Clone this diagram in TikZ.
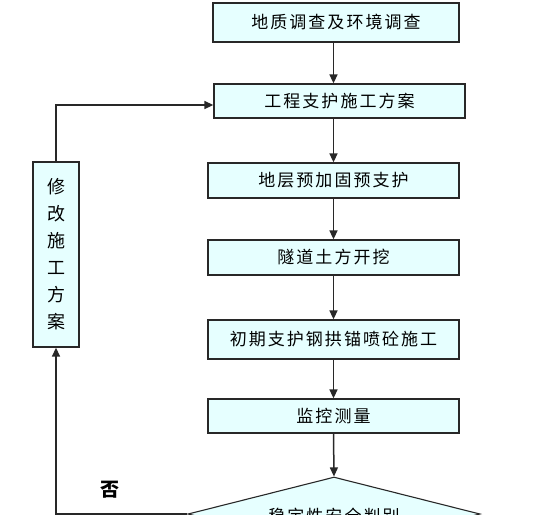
\documentclass[tikz,border=0pt]{standalone}
\usepackage{fontspec}
\setmainfont{Noto Sans CJK SC}[LetterSpace=12]
\usetikzlibrary{arrows.meta,shapes.geometric}
\definecolor{boxcyan}{RGB}{230, 255, 255}
\definecolor{linegray}{RGB}{40, 40, 40}

\begin{document}
\begin{tikzpicture}[x=1pt, y=-1pt, font=\fontsize{17}{19}\selectfont,
    stepbox/.style={draw=linegray, line width=1.3pt, fill=boxcyan,
      minimum width=251pt, minimum height=35pt, inner sep=0pt},
    checkbox/.style={diamond, draw=linegray, line width=1.1pt, fill=boxcyan,
      minimum width=292pt, minimum height=74pt, aspect=3.9, inner sep=0pt},
    arr/.style={draw=linegray, line width=1.5pt, -{Triangle[width=8pt,length=9pt]}}]
        \useasboundingbox (0,0) rectangle (550,515);
        \clip (0,0) rectangle (550,515);
        \fill[white] (0,0) rectangle (550,515);
        % main column
        \node[stepbox, minimum width=246pt, minimum height=39pt] (survey) at (336,22.5) {地质调查及环境调查};
        \node[stepbox, minimum height=34pt] (plan)   at (339.5,101) {工程支护施工方案};
        \node[stepbox] (reinforce) at (333.5,180.5) {地层预加固预支护};
        \node[stepbox] (excavate)  at (333.5,257.5) {隧道土方开挖};
        \node[stepbox, minimum height=39pt] (support) at (333.5,339.5) {初期支护钢拱锚喷砼施工};
        \node[stepbox, minimum height=34pt] (monitor) at (333.5,416) {监控测量};
        \node[checkbox] (judge) at (334,514) {};
        \node at (334,516) {稳定性安全判别};
        % side loop
        \node[stepbox, minimum width=46pt, minimum height=185pt, align=center,
          font=\fontsize{18}{27}\selectfont] (revise) at (56,254.5) {修\\改\\施\\工\\方\\案};
        \node[font=\fontsize{19}{20}\selectfont\bfseries] (no) at (110,490) {否};
        % arrows
        \draw[arr] (survey.south -| monitor.north) -- (plan.north -| monitor.north);
        \draw[arr] (plan.south -| monitor.north) -- (reinforce.north);
        \draw[arr] (reinforce.south) -- (excavate.north);
        \draw[arr] (excavate.south) -- (support.north);
        \draw[arr] (support.south) -- (monitor.north);
        \draw[arr] (monitor.south) -- (judge.north);
        \draw[arr] (judge.west) -| (revise.south);
        \draw[arr] (revise.north) |- ([yshift=-4pt]plan.west);
      \end{tikzpicture}
\end{document}
